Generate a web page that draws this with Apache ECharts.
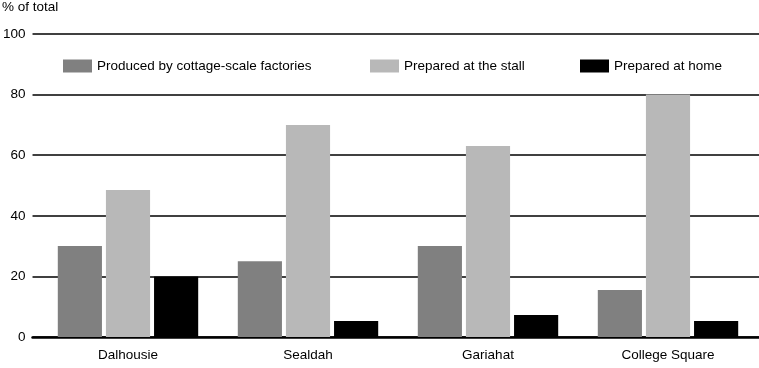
<!DOCTYPE html>
<html>
<head>
<meta charset="utf-8">
<script src="https://cdn.jsdelivr.net/npm/echarts@6/dist/echarts.min.js"></script>
<style>html,body{margin:0;padding:0;background:#fff;}#c{width:759px;height:368px;}</style>
</head>
<body>
<div id="c"></div>
<script>
const categories = ['Dalhousie', 'Sealdah', 'Gariahat', 'College Square'];
const seriesNames = ['Produced by cottage-scale factories', 'Prepared at the stall', 'Prepared at home'];
const cottageValues = [30, 25, 30, 15.5];
const stallValues = [48.5, 70, 63, 80];
const homeValues = [20, 5.3, 7.3, 5.3];
const yTicks = [0, 20, 40, 60, 80, 100];

const colors = ['#808080', '#b8b8b8', '#000000'];
const font = 'Liberation Sans, Arial, sans-serif';
const fs = 13.5;
const chart = echarts.init(document.getElementById('c'));

function legendAt(name, left) {
  return {
    data: [name], left: left, top: 59, itemWidth: 29, itemHeight: 13, itemGap: 0, icon: 'rect',
    textStyle: { fontFamily: font, fontSize: fs, color: '#000' },
    selectedMode: false, padding: 0
  };
}

const yMin = yTicks[0], yMax = yTicks[yTicks.length - 1];

chart.setOption({
  animation: false,
  title: { text: '% of total', left: 2, top: 0, padding: 0, textStyle: { fontFamily: font, fontSize: fs, fontWeight: 'normal', color: '#000' } },
  legend: [legendAt(seriesNames[0], 63), legendAt(seriesNames[1], 370), legendAt(seriesNames[2], 580)],
  grid: [
    { left: 38, right: 1, top: 34, bottom: 31 },
    { left: 32, right: 0, top: 34, bottom: 31 }
  ],
  xAxis: [
    {
      type: 'category', data: categories, gridIndex: 0,
      axisLine: { show: false },
      axisTick: { show: false },
      axisLabel: { fontFamily: font, fontSize: fs, color: '#000', margin: 11 }
    },
    {
      type: 'category', data: categories, gridIndex: 1,
      axisLine: { lineStyle: { color: '#000', width: 2.5 } },
      axisTick: { show: false }, axisLabel: { show: false }
    }
  ],
  yAxis: [
    {
      type: 'value', gridIndex: 0, min: yMin, max: yMax, interval: 20,
      axisLine: { show: false }, axisTick: { show: false },
      axisLabel: { show: false }, splitLine: { show: false }
    },
    {
      type: 'value', gridIndex: 1, min: yMin, max: yMax, interval: 20,
      axisLine: { show: false }, axisTick: { show: false },
      axisLabel: { fontFamily: font, fontSize: fs, color: '#000', margin: 7 },
      splitLine: { lineStyle: { color: '#000', width: 1.5 } }
    }
  ],
  series: [
    { name: seriesNames[0], type: 'bar', data: cottageValues, itemStyle: { color: colors[0] }, barGap: '9%', barCategoryGap: '22%', z: 3 },
    { name: seriesNames[1], type: 'bar', data: stallValues, itemStyle: { color: colors[1] }, z: 3 },
    { name: seriesNames[2], type: 'bar', data: homeValues, itemStyle: { color: colors[2] }, z: 3 }
  ]
});
</script>
</body>
</html>
